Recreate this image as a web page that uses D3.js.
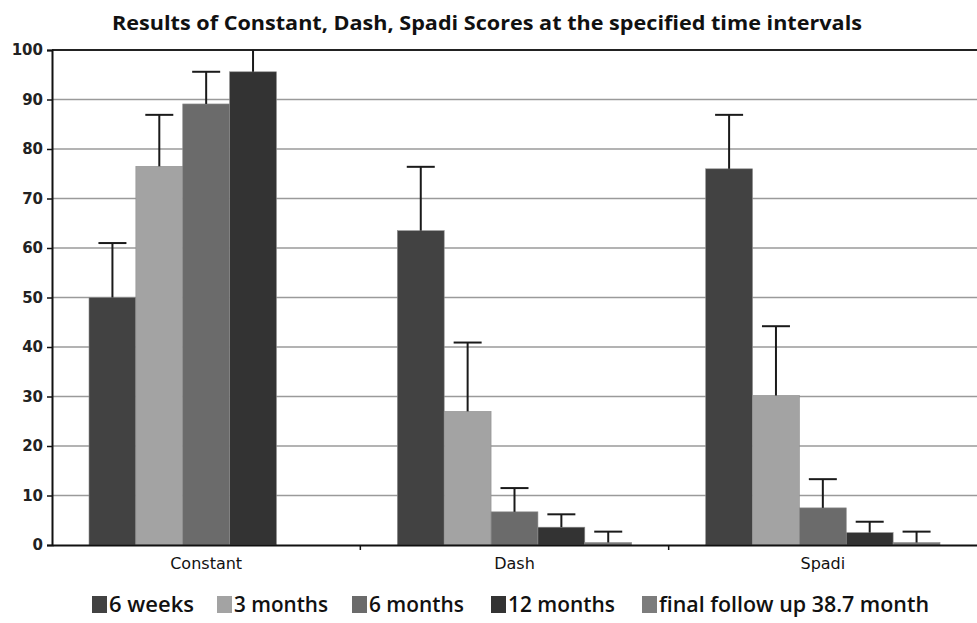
<!DOCTYPE html>
<html>
<head>
<meta charset="utf-8">
<script src="https://cdn.jsdelivr.net/npm/d3@7"></script>
<style>
  body { margin: 0; background: #fff; }
</style>
</head>
<body>
<div id="container"></div>
<script>
const categories = ['Constant', 'Dash', 'Spadi'];
const series = ['6 weeks', '3 months', '6 months', '12 months', 'final follow up 38.7 month'];
const yTicks = [0, 10, 20, 30, 40, 50, 60, 70, 80, 90, 100];

// mean score per category (Constant, Dash, Spadi)
const sixWeeks = [50, 63.5, 76];
const threeMonths = [76.5, 27, 30.2];
const sixMonths = [89.1, 6.7, 7.5];
const twelveMonths = [95.6, 3.6, 2.5];
const finalFollowUp = [null, 0.5, 0.5];

// upper error (SD)
const sixWeeksErr = [11, 12.9, 10.9];
const threeMonthsErr = [10.4, 13.9, 14];
const sixMonthsErr = [6.5, 4.8, 5.8];
const twelveMonthsErr = [8, 2.6, 2.2];
const finalFollowUpErr = [null, 2.2, 2.2];

const colors = ['#424242', '#a3a3a3', '#6b6b6b', '#333333', '#7c7c7c'];

const means = [sixWeeks, threeMonths, sixMonths, twelveMonths, finalFollowUp];
const errs = [sixWeeksErr, threeMonthsErr, sixMonthsErr, twelveMonthsErr, finalFollowUpErr];

const W = 977, H = 623;
const margin = { top: 50, right: 0, bottom: 78, left: 52 };

const svg = d3.select('#container')
    .append('svg')
    .attr('width', W)
    .attr('height', H);

const x0 = d3.scaleBand()
    .domain(categories)
    .range([margin.left, W - margin.right])
    .paddingInner(0)
    .paddingOuter(0);

const x1 = d3.scaleBand()
    .domain(series)
    .range([37, x0.bandwidth() - 37])
    .padding(0);

const y = d3.scaleLinear()
    .domain([0, 100])
    .range([H - margin.bottom, margin.top]);

// title
svg.append('text')
    .attr('x', 487)
    .attr('y', 30)
    .attr('text-anchor', 'middle')
    .attr('font-family', 'Open Sans, sans-serif')
    .attr('font-weight', 'bold')
    .attr('font-size', 20)
    .attr('textLength', 750)
    .attr('lengthAdjust', 'spacingAndGlyphs')
    .attr('fill', '#111')
    .text('Results of Constant, Dash, Spadi Scores at the specified time intervals');

// gridlines
svg.append('g')
    .selectAll('line')
    .data(yTicks.filter(d => d > 0 && d < 100))
    .enter()
    .append('line')
    .attr('x1', margin.left)
    .attr('x2', W)
    .attr('y1', d => y(d))
    .attr('y2', d => y(d))
    .attr('stroke', '#9a9a9a')
    .attr('stroke-width', 1.5);

// top frame line at 100
svg.append('line')
    .attr('x1', margin.left)
    .attr('x2', W)
    .attr('y1', y(100))
    .attr('y2', y(100))
    .attr('stroke', '#222')
    .attr('stroke-width', 2);

svg.append('clipPath').attr('id', 'plot')
    .append('rect')
    .attr('x', margin.left)
    .attr('y', y(100))
    .attr('width', W - margin.left)
    .attr('height', y(0) - y(100));

const rows = [];
series.forEach((s, i) => {
    categories.forEach((c, j) => {
        if (means[i][j] != null) rows.push({ s, c, i, v: means[i][j], e: errs[i][j] });
    });
});

const plot = svg.append('g').attr('clip-path', 'url(#plot)');

plot.selectAll('rect.bar')
    .data(rows)
    .enter()
    .append('rect')
    .attr('class', 'bar')
    .attr('x', d => x0(d.c) + x1(d.s))
    .attr('y', d => y(d.v))
    .attr('width', x1.bandwidth())
    .attr('height', d => y(0) - y(d.v))
    .attr('fill', d => colors[d.i])
    .attr('stroke', '#8f8f8f')
    .attr('stroke-width', 0.6);

const capW = 28;
const eb = plot.selectAll('g.err')
    .data(rows)
    .enter()
    .append('g')
    .attr('stroke', '#1a1a1a')
    .attr('stroke-width', 2);

eb.append('line')
    .attr('x1', d => x0(d.c) + x1(d.s) + x1.bandwidth() / 2)
    .attr('x2', d => x0(d.c) + x1(d.s) + x1.bandwidth() / 2)
    .attr('y1', d => y(d.v))
    .attr('y2', d => y(d.v + d.e));

eb.append('line')
    .attr('x1', d => x0(d.c) + x1(d.s) + x1.bandwidth() / 2 - capW / 2)
    .attr('x2', d => x0(d.c) + x1(d.s) + x1.bandwidth() / 2 + capW / 2)
    .attr('y1', d => y(d.v + d.e))
    .attr('y2', d => y(d.v + d.e));

// y axis
const yAxis = svg.append('g')
    .attr('transform', `translate(${margin.left},0)`)
    .call(d3.axisLeft(y).tickValues(yTicks).tickSize(5).tickPadding(4));
yAxis.select('.domain').attr('stroke', '#111').attr('stroke-width', 2);
yAxis.selectAll('.tick line').attr('stroke', '#111').attr('stroke-width', 1.5);
yAxis.selectAll('.tick text')
    .attr('font-family', 'DejaVu Sans, sans-serif')
    .attr('font-weight', 'bold')
    .attr('font-size', 15)
    .attr('fill', '#222');

// x axis
const xAxis = svg.append('g')
    .attr('transform', `translate(0,${y(0)})`)
    .call(d3.axisBottom(x0).tickSize(0).tickPadding(13));
xAxis.select('.domain').attr('stroke', '#111').attr('stroke-width', 2);
xAxis.selectAll('.tick text')
    .attr('font-family', 'DejaVu Sans, sans-serif')
    .attr('font-size', 16)
    .attr('fill', '#111');

// category separator ticks
xAxis.selectAll('line.sep')
    .data(categories.slice(1))
    .enter()
    .append('line')
    .attr('x1', d => x0(d))
    .attr('x2', d => x0(d))
    .attr('y1', 0)
    .attr('y2', 5)
    .attr('stroke', '#111')
    .attr('stroke-width', 1.5);

// legend
const legendX = [92, 217, 352, 491, 642];
const legendTextW = [85, 94, 95, 107, 270];
const lg = svg.append('g')
    .selectAll('g')
    .data(series)
    .enter()
    .append('g')
    .attr('transform', (d, i) => `translate(${legendX[i]},596)`);

lg.append('rect')
    .attr('width', 15)
    .attr('height', 17)
    .attr('fill', (d, i) => colors[i]);

lg.append('text')
    .attr('x', 17)
    .attr('y', 16)
    .attr('font-family', 'Open Sans, sans-serif')
    .attr('font-weight', 600)
    .attr('font-size', 21)
    .attr('textLength', (d, i) => legendTextW[i])
    .attr('lengthAdjust', 'spacingAndGlyphs')
    .attr('fill', '#111')
    .text(d => d);
</script>
</body>
</html>
